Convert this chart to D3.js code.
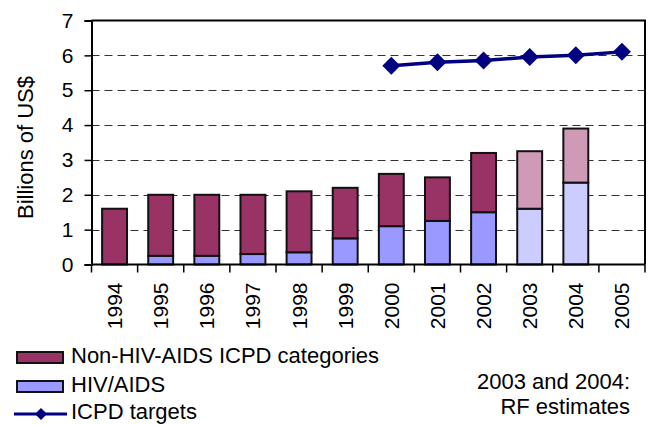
<!DOCTYPE html>
<html>
<head>
<meta charset="utf-8">
<script src="https://cdn.jsdelivr.net/npm/d3@7"></script>
<style>
  body { margin: 0; background: #fff; }
  svg { display: block; font-family: "Liberation Sans", Arial, sans-serif; }
</style>
</head>
<body>
<div class="canvas"></div>
<script>
const years = ['1994', '1995', '1996', '1997', '1998', '1999', '2000', '2001', '2002', '2003', '2004', '2005'];
const hivAids = [0, 0.25, 0.25, 0.3, 0.35, 0.75, 1.1, 1.25, 1.5, 1.6, 2.35, null];
const nonHivAids = [1.6, 1.75, 1.75, 1.7, 1.75, 1.45, 1.5, 1.25, 1.7, 1.65, 1.55, null];
const targetYears = ['2000', '2001', '2002', '2003', '2004', '2005'];
const icpdTargets = [5.7, 5.8, 5.85, 5.95, 6.0, 6.1];
const estimateYears = ['2003', '2004'];
const yTicks = [0, 1, 2, 3, 4, 5, 6, 7];

const dims = { width: 651, height: 425 };
const plot = { left: 91.5, right: 645, top: 20.5, bottom: 264.5 };

const colour = {
    non: '#993366', nonEst: '#cf9ab5',
    hiv: '#9999ff', hivEst: '#ccccff',
    line: '#000080'
};

const svg = d3.select('.canvas')
    .append('svg')
    .attr('width', dims.width)
    .attr('height', dims.height);

const x = d3.scaleBand()
    .domain(years)
    .range([plot.left, plot.right])
    .paddingInner(0.46)
    .paddingOuter(0.23);

const y = d3.scaleLinear()
    .domain([0, 7])
    .range([plot.bottom, plot.top]);

// dashed grid
svg.append('g')
    .selectAll('line')
    .data(yTicks.filter(d => d > 0 && d < 7))
    .enter()
    .append('line')
    .attr('x1', plot.left)
    .attr('x2', plot.right)
    .attr('y1', d => Math.round(y(d)) + 0.5)
    .attr('y2', d => Math.round(y(d)) + 0.5)
    .attr('stroke', '#333')
    .attr('stroke-width', 1.2)
    .attr('stroke-dasharray', '8,5');

// top and right frame
svg.append('path')
    .attr('d', `M${plot.left},${plot.top}H${plot.right}V${plot.bottom}`)
    .attr('fill', 'none')
    .attr('stroke', '#000')
    .attr('stroke-width', 2);

// stacked bars
const rows = years.map((yr, i) => ({ year: yr, hiv: hivAids[i], non: nonHivAids[i] }))
    .filter(d => d.hiv !== null);
const isEst = d => estimateYears.includes(d.year);

const bars = svg.append('g');
bars.selectAll('.hiv')
    .data(rows.filter(d => d.hiv > 0))
    .enter()
    .append('rect')
    .attr('class', 'hiv')
    .attr('x', d => x(d.year))
    .attr('width', x.bandwidth())
    .attr('y', d => y(d.hiv))
    .attr('height', d => y(0) - y(d.hiv))
    .attr('fill', d => isEst(d) ? colour.hivEst : colour.hiv)
    .attr('stroke', '#111')
    .attr('stroke-width', 2);

bars.selectAll('.non')
    .data(rows)
    .enter()
    .append('rect')
    .attr('class', 'non')
    .attr('x', d => x(d.year))
    .attr('width', x.bandwidth())
    .attr('y', d => y(d.hiv + d.non))
    .attr('height', d => y(d.hiv) - y(d.hiv + d.non))
    .attr('fill', d => isEst(d) ? colour.nonEst : colour.non)
    .attr('stroke', '#111')
    .attr('stroke-width', 2);

// y axis
const yAxis = svg.append('g')
    .attr('transform', `translate(${plot.left},0)`)
    .call(d3.axisLeft(y).tickValues(yTicks).tickSize(7).tickPadding(11).tickFormat(d3.format('d')));
yAxis.select('.domain').attr('stroke-width', 2);
yAxis.selectAll('.tick line').attr('stroke-width', 1.5);
yAxis.selectAll('text')
    .attr('font-size', 21)
    .attr('font-family', '"Liberation Sans", Arial, sans-serif')
    .attr('fill', '#000');

// x axis: ticks sit between categories
const xAxisG = svg.append('g');
xAxisG.append('line')
    .attr('x1', plot.left).attr('x2', plot.right)
    .attr('y1', plot.bottom).attr('y2', plot.bottom)
    .attr('stroke', '#000').attr('stroke-width', 2);
const bounds = years.map(d => x(d) - x.step() * 0.23).concat([plot.right]);
xAxisG.selectAll('.xt')
    .data(bounds)
    .enter()
    .append('line')
    .attr('x1', d => d).attr('x2', d => d)
    .attr('y1', plot.bottom).attr('y2', plot.bottom + 8)
    .attr('stroke', '#000').attr('stroke-width', 1.5);
xAxisG.selectAll('.xl')
    .data(years)
    .enter()
    .append('text')
    .attr('transform', d => `translate(${x(d) + x.bandwidth() / 2 + 7.5},${plot.bottom + 18}) rotate(-90)`)
    .attr('text-anchor', 'end')
    .attr('font-size', 21)
    .text(d => d);

// y title
svg.append('text')
    .attr('transform', 'translate(33,147.5) rotate(-90)')
    .attr('text-anchor', 'middle')
    .attr('font-size', 22)
    .text('Billions of US$');

// ICPD target line
const pts = targetYears.map((yr, i) => ({ year: yr, v: icpdTargets[i] }));
const cx = d => x(d.year) + x.bandwidth() / 2;
svg.append('path')
    .datum(pts)
    .attr('fill', 'none')
    .attr('stroke', colour.line)
    .attr('stroke-width', 3.5)
    .attr('d', d3.line().x(cx).y(d => y(d.v)));

const diamond = d3.symbol().type(d3.symbolSquare).size(162);
svg.selectAll('.marker')
    .data(pts)
    .enter()
    .append('path')
    .attr('class', 'marker')
    .attr('transform', d => `translate(${cx(d)},${y(d.v)}) rotate(45)`)
    .attr('d', diamond)
    .attr('fill', colour.line);

// legend
const legend = svg.append('g').attr('font-size', 22);
const legendItems = [
    { label: 'Non-HIV-AIDS ICPD categories', fill: colour.non, base: 363 },
    { label: 'HIV/AIDS', fill: colour.hiv, base: 392 }
];
legendItems.forEach(item => {
    legend.append('rect')
        .attr('x', 17).attr('y', item.base - 11)
        .attr('width', 46).attr('height', 11)
        .attr('fill', item.fill)
        .attr('stroke', '#111').attr('stroke-width', 2);
    legend.append('text')
        .attr('x', 71).attr('y', item.base)
        .text(item.label);
});
legend.append('line')
    .attr('x1', 14).attr('x2', 67)
    .attr('y1', 414).attr('y2', 414)
    .attr('stroke', colour.line).attr('stroke-width', 3);
legend.append('path')
    .attr('transform', 'translate(41,414) rotate(45)')
    .attr('d', d3.symbol().type(d3.symbolSquare).size(72))
    .attr('fill', colour.line);
legend.append('text')
    .attr('x', 71).attr('y', 419)
    .text('ICPD targets');

// note
const note = svg.append('text')
    .attr('text-anchor', 'end')
    .attr('font-size', 22);
note.append('tspan').attr('x', 630).attr('y', 389).text('2003 and 2004:');
note.append('tspan').attr('x', 630).attr('y', 414).text('RF estimates');
</script>
</body>
</html>
